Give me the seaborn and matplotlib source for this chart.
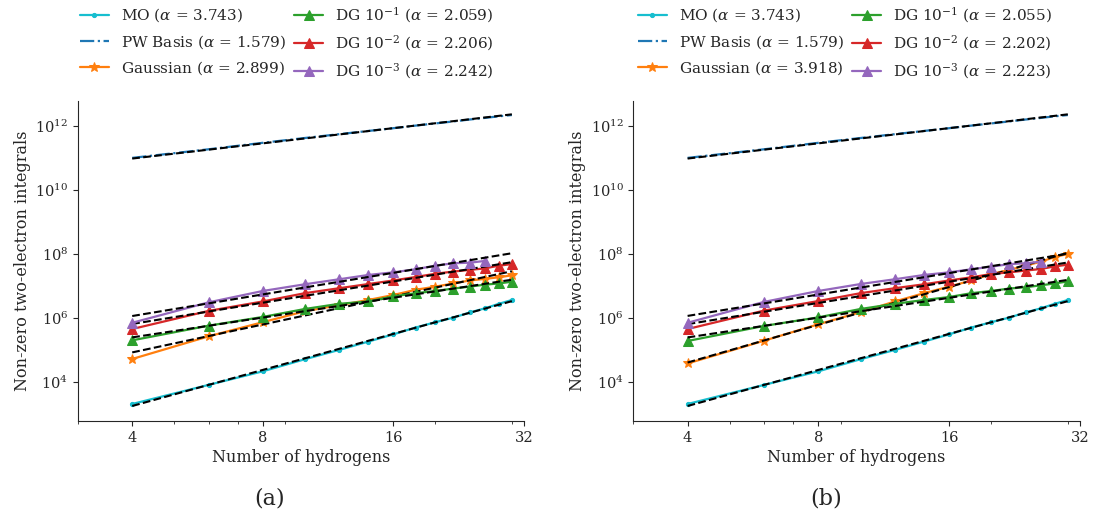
import numpy as np
import pandas as pd
import matplotlib
matplotlib.use("Agg")
import matplotlib.pyplot as plt
import seaborn as sns
from matplotlib.ticker import FixedLocator, FixedFormatter, NullFormatter, NullLocator, LogLocator

# ---------------- data ----------------
n_h = [4, 6, 8, 10, 12, 14, 16, 18, 20, 22, 24, 26, 28, 30]
n_h_dg3 = [4, 6, 8, 10, 12, 14, 16, 18, 20, 22, 24, 26]

mo_vals = [2.0e3, 7.9e3, 2.1e4, 5.0e4, 9.8e4, 1.78e5, 3.0e5, 4.9e5, 7.2e5, 1.0e6, 1.45e6, 1.95e6, 2.7e6, 3.55e6]
pw_vals = [9.8e10, 1.82e11, 2.9e11, 4.1e11, 5.4e11, 6.8e11, 8.3e11, 1.0e12, 1.17e12, 1.35e12, 1.55e12, 1.74e12, 1.95e12, 2.14e12]

gauss_a = [5.1e4, 2.6e5, 7.2e5, 1.58e6, 2.45e6, 3.55e6, 5.1e6, 7.4e6, 9.3e6, 1.17e7, 1.45e7, 1.62e7, 1.82e7, 2.1e7]
dg1_a = [1.95e5, 5.6e5, 1.05e6, 1.86e6, 2.7e6, 3.2e6, 4.6e6, 5.8e6, 6.8e6, 8.1e6, 9.3e6, 1.07e7, 1.17e7, 1.32e7]
dg2_a = [4.4e5, 1.62e6, 3.2e6, 5.8e6, 8.3e6, 1.12e7, 1.45e7, 1.86e7, 2.35e7, 2.75e7, 3.1e7, 3.45e7, 4.2e7, 4.7e7]
dg3_a = [6.9e5, 3.0e6, 6.8e6, 1.1e7, 1.58e7, 2.15e7, 2.6e7, 3.25e7, 4.2e7, 5.0e7, 5.2e7, 5.9e7]

gauss_b = [3.7e4, 1.9e5, 6.2e5, 1.48e6, 3.2e6, 5.8e6, 9.3e6, 1.45e7, 2.3e7, 3.1e7, 4.2e7, 5.6e7, 7.8e7, 9.8e7]
dg1_b = [1.86e5, 5.5e5, 1.02e6, 1.86e6, 2.7e6, 3.55e6, 4.4e6, 5.8e6, 6.8e6, 8.1e6, 8.9e6, 1.02e7, 1.17e7, 1.35e7]
dg2_b = [4.4e5, 1.66e6, 3.3e6, 5.8e6, 8.3e6, 1.1e7, 1.45e7, 1.82e7, 2.3e7, 2.6e7, 2.95e7, 3.3e7, 4.0e7, 4.5e7]
dg3_b = [6.9e5, 3.1e6, 6.8e6, 1.12e7, 1.58e7, 2.15e7, 2.6e7, 3.25e7, 3.9e7, 4.7e7, 5.0e7, 5.6e7]

alpha_a = [3.743, 1.579, 2.899, 2.059, 2.206, 2.242]
alpha_b = [3.743, 1.579, 3.918, 2.055, 2.202, 2.223]

series_names = ["MO", "PW Basis", "Gaussian", r"DG $10^{-1}$", r"DG $10^{-2}$", r"DG $10^{-3}$"]
x_ticks = [4, 8, 16, 32]
x_tick_labels = ["4", "8", "16", "32"]
y_ticks = [1e4, 1e6, 1e8, 1e10, 1e12]
panel_labels = ["(a)", "(b)"]

# ---------------- style ----------------
sns.set_style("ticks")
plt.rcParams["font.family"] = ["DejaVu Serif"]
plt.rcParams["mathtext.fontset"] = "dejavuserif"
plt.rcParams["axes.formatter.use_mathtext"] = True
FS_TICK = 10.5
FS_LABEL = 11.5
FS_LEG = 11

colors = ["#17becf", "#1f77b4", "#ff7f0e", "#2ca02c", "#d62728", "#9467bd"]
markers = [".", None, "*", "^", "^", "^"]
styles = ["-", "-.", "-", "-", "-", "-"]
msizes = [6, 0, 7, 7, 7, 7]

fig = plt.figure(figsize=(10.94, 5.18), dpi=100)
ax_a = fig.add_axes([0.0713, 0.1873, 0.4077, 0.6178])
ax_b = fig.add_axes([0.5789, 0.1873, 0.4083, 0.6178])

panels = [
    (ax_a, [mo_vals, pw_vals, gauss_a, dg1_a, dg2_a, dg3_a], alpha_a, 0.073),
    (ax_b, [mo_vals, pw_vals, gauss_b, dg1_b, dg2_b, dg3_b], alpha_b, 0.583),
]

x_all = np.array(n_h, dtype=float)
for ax, vals, alphas, lx in panels:
    handles = []
    for i, (v, a) in enumerate(zip(vals, alphas)):
        xs = n_h if len(v) == len(n_h) else n_h_dg3
        df = pd.DataFrame({"n": xs, "v": v})
        kw = dict(color=colors[i], linestyle=styles[i], linewidth=1.6)
        if markers[i] is not None:
            kw.update(marker=markers[i], markersize=msizes[i],
                      markeredgecolor=colors[i], markerfacecolor=colors[i])
        label = f"{series_names[i]} ($\\alpha$ = {a:.3f})"
        sns.lineplot(data=df, x="n", y="v", ax=ax, label=label, legend=False, **kw)
        handles.append(ax.lines[-1])
        # power-law fit with the reported exponent
        c = np.mean(np.log10(v) - a * np.log10(xs))
        fit_df = pd.DataFrame({"n": x_all, "v": 10 ** c * x_all ** a})
        sns.lineplot(data=fit_df, x="n", y="v", ax=ax, color="k", linestyle="--",
                     linewidth=1.5, legend=False)
    ax.set_xscale("log")
    ax.set_yscale("log")
    ax.set_xlim(3, 32)
    ax.set_ylim(10 ** 2.77, 10 ** 12.77)
    ax.xaxis.set_major_locator(FixedLocator(x_ticks))
    ax.xaxis.set_major_formatter(FixedFormatter(x_tick_labels))
    ax.xaxis.set_minor_locator(LogLocator(base=10, subs=np.arange(2, 10)))
    ax.xaxis.set_minor_formatter(NullFormatter())
    ax.yaxis.set_major_locator(FixedLocator(y_ticks))
    ax.yaxis.set_minor_locator(NullLocator())
    ax.tick_params(labelsize=FS_TICK)
    ax.set_xlabel("Number of hydrogens", fontsize=FS_LABEL, labelpad=3)
    ax.set_ylabel("Non-zero two-electron integrals", fontsize=FS_LABEL, labelpad=3)
    sns.despine(ax=ax)
    ax.legend(handles=handles, labels=[h.get_label() for h in handles],
              loc="upper left", bbox_to_anchor=(lx, 0.99), bbox_transform=fig.transFigure,
              ncol=2, frameon=False, fontsize=FS_LEG, borderpad=0, borderaxespad=0,
              handlelength=1.9, handletextpad=0.8, columnspacing=0.5, labelspacing=0.55)

fig.text(0.246, 0.038, panel_labels[0], ha="center", va="center", fontsize=16)
fig.text(0.755, 0.038, panel_labels[1], ha="center", va="center", fontsize=16)

fig.savefig("out.png", dpi=100)
